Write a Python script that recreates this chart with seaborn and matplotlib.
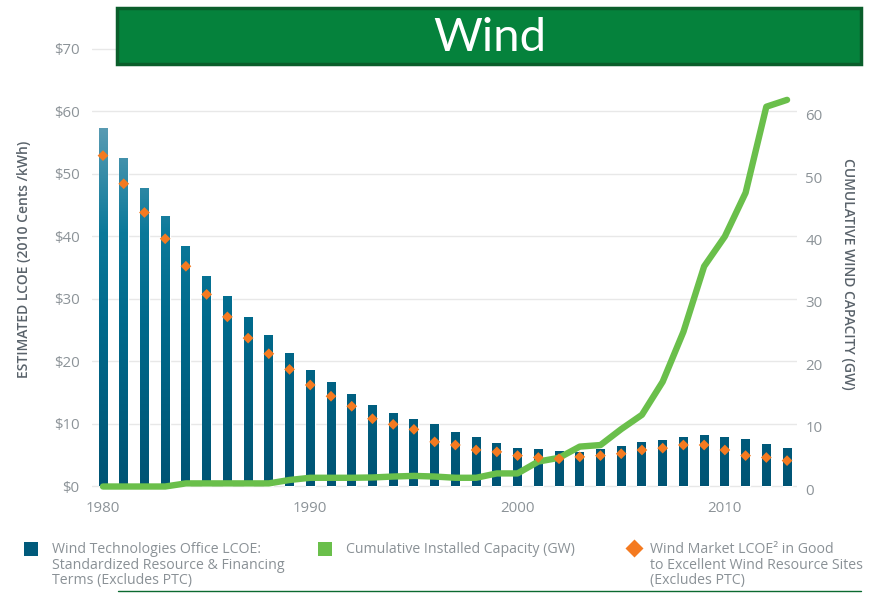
import numpy as np
import matplotlib
matplotlib.use("Agg")
import matplotlib.pyplot as plt
from matplotlib.colors import LinearSegmentedColormap
from matplotlib.patches import Rectangle
from matplotlib.lines import Line2D
import seaborn as sns

sns.set_theme(style="white")
plt.rcParams['font.family'] = ['Open Sans', 'DejaVu Sans']

years = list(range(1980, 2014))

# Wind Technologies Office LCOE (cents/kWh, 2010$)
lcoe_office = [57.3, 52.5, 47.8, 43.2, 38.5, 33.7, 30.4, 27.1, 24.2, 21.4,
               18.6, 16.6, 14.7, 13.0, 11.8, 10.7, 9.9, 8.7, 7.9, 7.0,
               6.2, 5.9, 5.7, 5.5, 6.0, 6.5, 7.1, 7.4, 7.9, 8.2,
               7.9, 7.6, 6.7, 6.2]

# Wind market LCOE in good to excellent sites
lcoe_market = [52.9, 48.4, 43.8, 39.6, 35.2, 30.7, 27.1, 23.7, 21.2, 18.7,
               16.2, 14.4, 12.8, 10.8, 9.9, 9.1, 7.1, 6.6, 5.8, 5.5,
               4.9, 4.6, 4.4, 4.7, 4.9, 5.2, 5.8, 6.1, 6.6, 6.6,
               5.8, 4.9, 4.6, 4.1]

# Cumulative installed capacity (GW)
capacity = [0.4, 0.4, 0.4, 0.4, 0.9, 0.9, 0.9, 0.9, 0.9, 1.45,
            1.8, 1.8, 1.8, 1.85, 2.0, 2.1, 2.0, 1.8, 1.8, 2.5,
            2.5, 4.4, 5.0, 6.8, 7.05, 9.6, 11.9, 17.2, 25.2, 35.7,
            40.5, 47.5, 61.3, 62.4]

left_ticks = [0, 10, 20, 30, 40, 50, 60, 70]
right_ticks = [0, 10, 20, 30, 40, 50, 60]
x_ticks = [1980, 1990, 2000, 2010]

tick_color = '#8c9398'
label_color = '#59626a'

fig = plt.figure(figsize=(8.74, 5.95), dpi=100)
rect = [92 / 874, 1 - 490 / 595, 705 / 874, 450 / 595]
ax = fig.add_axes(rect)

sns.barplot(x=years, y=lcoe_office, native_scale=True, width=0.43,
            color='#005a7b', saturation=1, errorbar=None, ax=ax, zorder=2)

# vertical gradient on the bars (lighter toward the top)
bar_cmap = LinearSegmentedColormap.from_list(
    'bars', [(0, '#005474'), (0.45, '#006a8c'), (0.7, '#0b799a'), (1, '#5d9db4')])
grad = np.linspace(0, 1, 256).reshape(-1, 1)
for p in list(ax.patches):
    im = ax.imshow(grad, extent=[p.get_x(), p.get_x() + p.get_width(), 0, 58],
                   origin='lower', aspect='auto', cmap=bar_cmap, zorder=2.1)
    im.set_clip_path(p)

ax.set_xlim(1979.47, 2013.48)
ax.set_ylim(-0.6, 71.4)
ax.set_yticks(left_ticks)
ax.set_yticklabels([f"${v}" for v in left_ticks])
ax.set_xticks(x_ticks)
ax.set_xticklabels([str(v) for v in x_ticks])
ax.yaxis.grid(True, color='#e8e8e8', lw=1)
ax.set_axisbelow(True)
ax.tick_params(axis='y', length=0, pad=9, labelsize=10.8, labelcolor=tick_color)
ax.tick_params(axis='x', length=0, pad=8, labelsize=10.8, labelcolor=tick_color)
ax.set_xlabel('')
ax.set_ylabel('')
for s in ax.spines.values():
    s.set_visible(False)

# capacity line on right axis
ax2 = ax.twinx()
sns.lineplot(x=years, y=capacity, color='#6abf4b', lw=4.6, ax=ax2,
             solid_capstyle='round', solid_joinstyle='round')
ax2.set_ylim(-0.16, 72.0)
ax2.set_yticks(right_ticks)
ax2.set_yticklabels([str(v) for v in right_ticks])
ax2.tick_params(axis='y', length=0, pad=6, labelsize=10.8, labelcolor=tick_color)
ax2.set_ylabel('')
ax2.grid(False)
for s in ax2.spines.values():
    s.set_visible(False)

# diamonds on top of the line, same scale as the bars
ax3 = fig.add_axes(rect, sharex=ax, sharey=ax)
ax3.patch.set_visible(False)
sns.scatterplot(x=years, y=lcoe_market, marker='D', s=30, color='#f47a20',
                edgecolor='none', ax=ax3, legend=False, zorder=5)
ax3.axis('off')

fig.text(24 / 874, 1 - 259 / 595, 'ESTIMATED LCOE (2010 Cents /kWh)', rotation=90,
         ha='center', va='center', fontsize=10, color=label_color, fontweight='semibold')
fig.text(848 / 874, 1 - 274 / 595, 'CUMULATIVE WIND CAPACITY (GW)', rotation=270,
         ha='center', va='center', fontsize=10, color=label_color, fontweight='semibold')

# title banner
fig.patches.append(Rectangle((117 / 874, 1 - 64 / 595), 744 / 874, 56 / 595,
                             transform=fig.transFigure, fc='#05823c', ec='#0a5e2b', lw=2.5))
fig.text(490 / 874, 1 - 38 / 595, 'Wind', ha='center', va='center',
         fontsize=34, color='white', family=['Lato', 'DejaVu Sans'])

# legend
leg_color = '#8a9196'
fig.patches.append(Rectangle((24 / 874, 1 - 556 / 595), 14 / 874, 14 / 595,
                             transform=fig.transFigure, fc='#005a7b', ec='none'))
fig.text(52 / 874, 1 - 542 / 595,
         'Wind Technologies Office LCOE:\nStandardized Resource & Financing\nTerms (Excludes PTC)',
         ha='left', va='top', fontsize=10.2, color=leg_color, linespacing=1.05)
fig.patches.append(Rectangle((318 / 874, 1 - 556 / 595), 14 / 874, 14 / 595,
                             transform=fig.transFigure, fc='#6abf4b', ec='none'))
fig.text(346 / 874, 1 - 542 / 595, 'Cumulative Installed Capacity (GW)',
         ha='left', va='top', fontsize=10.2, color=leg_color)
fig.add_artist(Line2D([634 / 874], [1 - 548 / 595], marker='D', markersize=9,
                      color='#f47a20', markeredgecolor='none', transform=fig.transFigure))
fig.text(650 / 874, 1 - 542 / 595,
         'Wind Market LCOE² in Good\nto Excellent Wind Resource Sites\n(Excludes PTC)',
         ha='left', va='top', fontsize=10.2, color=leg_color, linespacing=1.05)

fig.add_artist(Line2D([118 / 874, 861 / 874], [1 - 591 / 595, 1 - 591 / 595],
                      color='#0b6a30', lw=1, transform=fig.transFigure))

fig.savefig('out.png', dpi=100)
